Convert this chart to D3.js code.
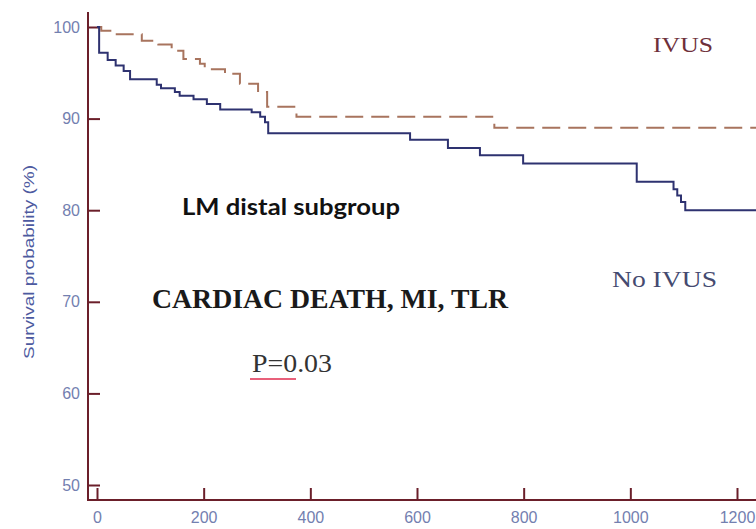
<!DOCTYPE html>
<html>
<head>
<meta charset="utf-8">
<script src="https://cdn.jsdelivr.net/npm/d3@7"></script>
<style>
  html, body { margin: 0; padding: 0; background: #ffffff; }
  svg { display: block; }
</style>
</head>
<body>
<svg id="chart" width="756" height="529"></svg>
<script>
// ---- data ----
const xTicks = [0, 200, 400, 600, 800, 1000, 1200];
const yTicks = [50, 60, 70, 80, 90, 100];

const noIvusDays = [0, 4, 20, 35, 50, 62, 112, 120, 146, 155, 181, 206, 231, 290, 306, 315, 321, 587, 658, 718, 799, 1012, 1081, 1088, 1095, 1103, 1245];
const noIvusSurv = [100, 97.2, 96.4, 95.8, 95.2, 94.3, 93.7, 93.3, 92.9, 92.5, 92.1, 91.6, 91.0, 90.7, 90.2, 89.6, 88.4, 87.7, 86.8, 86.0, 85.1, 83.1, 82.3, 81.6, 80.9, 80.0, 80.0];

const ivusDays = [0, 8, 37, 84, 115, 140, 162, 193, 202, 240, 268, 302, 319, 374, 745, 1245];
const ivusSurv = [100, 99.6, 99.2, 98.5, 98.1, 97.4, 96.5, 96.0, 95.4, 94.9, 93.8, 92.9, 91.3, 90.2, 89.0, 89.0];

const yTitle = "Survival probability (%)";
const labelIvus = "IVUS";
const labelNoIvus = "No IVUS";
const labelSubgroup = "LM distal subgroup";
const labelEndpoint = "CARDIAC DEATH, MI, TLR";
const labelP = "P=0.03";

// ---- drawing ----
const svg = d3.select("#chart");
const axisColor = "#6b1f2a";
const tickTextColor = "#7380b0";

const x = d3.scaleLinear().domain([0, 1200]).range([97, 737]);
const y = d3.scaleLinear().domain([50, 100]).range([485, 27]);

const yAxisX = 88, xAxisY = 500;

// axis lines
svg.append("line").attr("x1", yAxisX).attr("x2", yAxisX).attr("y1", 12).attr("y2", xAxisY + 1)
  .attr("stroke", axisColor).attr("stroke-width", 2);
svg.append("line").attr("x1", yAxisX - 1).attr("x2", 756).attr("y1", xAxisY).attr("y2", xAxisY)
  .attr("stroke", axisColor).attr("stroke-width", 2);

// y axis
const gy = svg.append("g").attr("transform", `translate(${yAxisX},0)`)
  .call(d3.axisLeft(y).tickValues(yTicks).tickFormat(d3.format("d")).tickSizeInner(-12).tickSizeOuter(0).tickPadding(8));
gy.select(".domain").remove();
gy.selectAll(".tick line").attr("stroke", axisColor).attr("stroke-width", 2);
gy.selectAll(".tick text").attr("fill", tickTextColor)
  .style("font-family", "'Liberation Sans', Arial, sans-serif").style("font-size", "16px");

// x axis
const gx = svg.append("g").attr("transform", `translate(0,${xAxisY})`)
  .call(d3.axisBottom(x).tickValues(xTicks).tickFormat(d3.format("d")).tickSizeInner(-12).tickSizeOuter(0).tickPadding(12));
gx.select(".domain").remove();
gx.selectAll(".tick line").attr("stroke", axisColor).attr("stroke-width", 2);
gx.selectAll(".tick text").attr("fill", tickTextColor)
  .style("font-family", "'Liberation Sans', Arial, sans-serif").style("font-size", "16px");

// y axis title
svg.append("text")
  .attr("transform", "translate(29,262) rotate(-90)")
  .attr("text-anchor", "middle").attr("dominant-baseline", "central")
  .attr("fill", "#4d5aa0")
  .style("font-family", "'Liberation Sans', Arial, sans-serif").style("font-size", "14px")
  .attr("textLength", 194).attr("lengthAdjust", "spacingAndGlyphs")
  .text(yTitle);

// curves
const line = d3.line().x(d => x(d[0])).y(d => y(d[1])).curve(d3.curveStepAfter);
const ivusData = ivusDays.map((d, i) => [d, ivusSurv[i]]);
const noIvusData = noIvusDays.map((d, i) => [d, noIvusSurv[i]]);

svg.append("path").datum(ivusData).attr("d", line)
  .attr("fill", "none").attr("stroke", "#a8745e").attr("stroke-width", 2)
  .attr("stroke-dasharray", "18,8");
svg.append("path").datum(noIvusData).attr("d", line)
  .attr("fill", "none").attr("stroke", "#2e3270").attr("stroke-width", 2);

// annotations
svg.append("text").attr("x", 653).attr("y", 52)
  .attr("fill", "#6e2f3a")
  .style("font-family", "'Liberation Serif', 'Times New Roman', serif").style("font-size", "22px")
  .attr("textLength", 60).attr("lengthAdjust", "spacingAndGlyphs")
  .text(labelIvus);

svg.append("text").attr("x", 612).attr("y", 287)
  .attr("fill", "#454a70")
  .style("font-family", "'Liberation Serif', 'Times New Roman', serif").style("font-size", "24px")
  .attr("textLength", 105).attr("lengthAdjust", "spacingAndGlyphs")
  .text(labelNoIvus);

svg.append("text").attr("x", 182).attr("y", 215)
  .attr("fill", "#111111")
  .style("font-family", "Lato, 'Open Sans', sans-serif").style("font-size", "22px").style("font-weight", "bold")
  .attr("textLength", 218).attr("lengthAdjust", "spacingAndGlyphs")
  .text(labelSubgroup);

svg.append("text").attr("x", 152).attr("y", 308)
  .attr("fill", "#1a1a1a")
  .style("font-family", "'Liberation Serif', 'Times New Roman', serif").style("font-size", "27px").style("font-weight", "bold")
  .attr("textLength", 356).attr("lengthAdjust", "spacingAndGlyphs")
  .text(labelEndpoint);

svg.append("text").attr("x", 252).attr("y", 372)
  .attr("fill", "#333333")
  .style("font-family", "'Liberation Serif', 'Times New Roman', serif").style("font-size", "25px")
  .attr("textLength", 80).attr("lengthAdjust", "spacingAndGlyphs")
  .text(labelP);

svg.append("line").attr("x1", 250).attr("x2", 296).attr("y1", 379).attr("y2", 379)
  .attr("stroke", "#e8607a").attr("stroke-width", 2);
</script>
</body>
</html>
